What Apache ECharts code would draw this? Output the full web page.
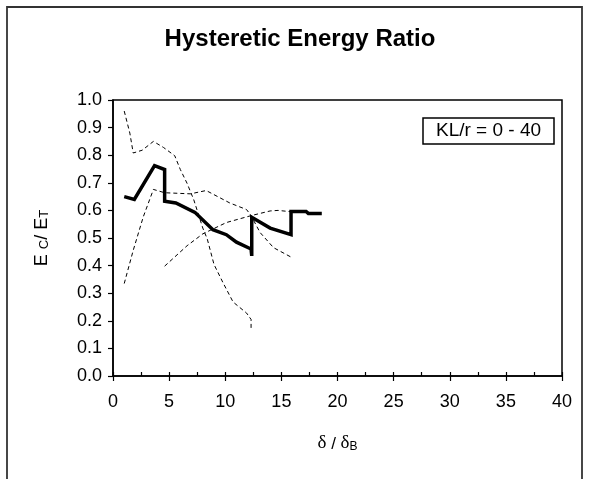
<!DOCTYPE html>
<html>
<head>
<meta charset="utf-8">
<script src="https://cdn.jsdelivr.net/npm/echarts@6/dist/echarts.min.js"></script>
<style>
  html, body { margin: 0; padding: 0; background: #fff; }
  #chart { width: 589px; height: 479px; }
</style>
</head>
<body>
<div id="chart"></div>
<script>
// Axis ranges and tick steps
const xRange = [0, 40];
const xStep = 5;
const xMinorStep = 2.5;
const yRange = [0, 1];
const yStep = 0.1;

// Mean hysteretic energy ratio (heavy solid line), [δ/δB, Ec/Et]
const meanRatio = [
  [1.0, 0.650], [1.9, 0.640], [3.7, 0.762], [4.6, 0.748], [4.6, 0.633],
  [5.6, 0.627], [7.3, 0.593], [8.9, 0.530], [10.1, 0.512], [11.0, 0.485],
  [12.3, 0.460], [12.36, 0.435], [12.36, 0.575], [14.0, 0.536], [15.86, 0.512],
  [15.86, 0.596], [17.2, 0.596], [17.4, 0.589], [18.6, 0.589]
];

// Individual specimens (thin dashed lines)
const specimenA = [
  [1.0, 0.960], [1.5, 0.880], [1.8, 0.808], [2.6, 0.818], [3.6, 0.850], [4.5, 0.828],
  [5.5, 0.798], [6.0, 0.748], [6.6, 0.698], [7.2, 0.638], [8.0, 0.536], [8.4, 0.496],
  [9.0, 0.404], [9.8, 0.338], [10.7, 0.268], [11.9, 0.228], [12.3, 0.205], [12.3, 0.172]
];
const specimenB = [
  [1.0, 0.335], [1.8, 0.455], [2.7, 0.577], [3.6, 0.676], [4.6, 0.664], [6.9, 0.660],
  [8.3, 0.672], [10.4, 0.627], [11.9, 0.603], [12.3, 0.581], [13.1, 0.520],
  [14.3, 0.465], [15.9, 0.430]
];
const specimenC = [
  [4.6, 0.398], [6.6, 0.472], [8.0, 0.515], [10.1, 0.556], [12.3, 0.581],
  [14.0, 0.598], [14.7, 0.600], [15.9, 0.595]
];

const titleText = 'Hysteretic Energy Ratio';
const boxText = 'KL/r = 0 - 40';

const FONT = 'Liberation Sans, Arial, sans-serif';
const SERIF = 'Liberation Serif, Times New Roman, serif';

const chart = echarts.init(document.getElementById('chart'), null, { renderer: 'canvas' });

function dashed(data) {
  return {
    type: 'line', data, symbol: 'none', silent: true,
    lineStyle: { color: '#000', width: 1, type: [4, 3] }
  };
}

chart.setOption({
  backgroundColor: '#fff',
  animation: false,
  grid: {
    left: 113, right: 27, top: 100, bottom: 103,
    show: true, borderColor: '#000', borderWidth: 1.5, backgroundColor: 'transparent'
  },
  xAxis: [{
    type: 'value', min: xRange[0], max: xRange[1], interval: xStep,
    axisLine: { show: true, lineStyle: { color: '#000', width: 1.5 } },
    axisTick: { show: true, length: 5, lineStyle: { color: '#000', width: 1.2 } },
    axisLabel: { color: '#000', fontSize: 18, fontFamily: FONT, margin: 17 },
    splitLine: { show: false },
    name: '{g|δ}{n| / }{g|δ}{s|B}',
    nameLocation: 'middle', nameGap: 58,
    nameTextStyle: {
      rich: {
        g: { fontSize: 19, fontFamily: SERIF, color: '#000', verticalAlign: 'bottom' },
        n: { fontSize: 17, fontFamily: FONT, color: '#000', verticalAlign: 'bottom' },
        s: { fontSize: 12, fontFamily: FONT, color: '#000', verticalAlign: 'bottom' }
      }
    }
  }, {
    // half-step marks pointing into the plot
    type: 'value', position: 'bottom', min: xRange[0], max: xRange[1], interval: xMinorStep,
    axisLine: { show: false },
    axisTick: { show: true, inside: true, length: 4, lineStyle: { color: '#000', width: 1.2 } },
    axisLabel: { show: false },
    splitLine: { show: false }
  }],
  yAxis: {
    type: 'value', min: yRange[0], max: yRange[1], interval: yStep,
    axisLine: { show: true, lineStyle: { color: '#000', width: 1.5 } },
    axisTick: { show: true, length: 5, lineStyle: { color: '#000', width: 1.2 } },
    axisLabel: { color: '#000', fontSize: 18, fontFamily: FONT, margin: 11,
      formatter: v => v.toFixed(1) },
    splitLine: { show: false },
    name: '{n|E }{s|C}{n|/ E}{s|T}',
    nameLocation: 'middle', nameRotate: 90, nameGap: 62,
    nameTextStyle: {
      rich: {
        n: { fontSize: 18, fontFamily: FONT, color: '#000', verticalAlign: 'bottom' },
        s: { fontSize: 13, fontFamily: FONT, color: '#000', verticalAlign: 'bottom' }
      }
    }
  },
  series: [
    dashed(specimenA),
    dashed(specimenB),
    dashed(specimenC),
    {
      type: 'line', data: meanRatio, symbol: 'none', silent: true,
      lineStyle: { color: '#000', width: 3.5, join: 'miter' }
    }
  ],
  graphic: [
    {
      type: 'rect', silent: true,
      shape: { x: 7, y: 7, width: 575, height: 520 },
      style: { fill: 'none', stroke: '#333', lineWidth: 1.8 }
    },
    {
      type: 'text', silent: true, x: 300, y: 39,
      style: { text: titleText, font: 'bold 24px ' + FONT, fill: '#000',
        align: 'center', verticalAlign: 'middle' }
    },
    {
      type: 'rect', silent: true, z: 10,
      shape: { x: 423, y: 118, width: 131, height: 26 },
      style: { fill: '#fff', stroke: '#000', lineWidth: 1.5 }
    },
    {
      type: 'text', silent: true, z: 11, x: 488.5, y: 131,
      style: { text: boxText, font: '19px ' + FONT, fill: '#000',
        align: 'center', verticalAlign: 'middle' }
    }
  ]
});
</script>
</body>
</html>
